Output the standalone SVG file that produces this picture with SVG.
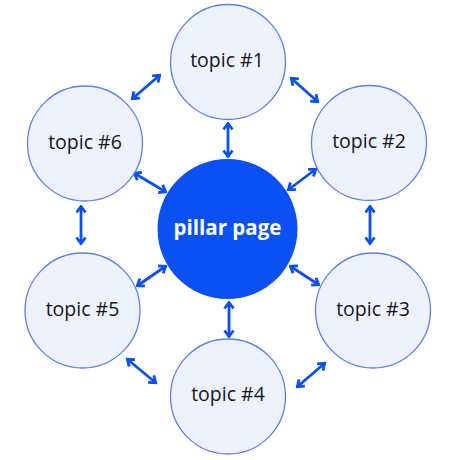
<svg xmlns="http://www.w3.org/2000/svg" width="456" height="460" viewBox="0 0 456 460">
<style>
.topic circle{fill:#eef2fc;stroke:#5b80ea;stroke-width:1.3}
.topic text{font-family:"Open Sans","Liberation Sans",sans-serif;font-size:19.5px;font-weight:500;fill:#16161e;text-anchor:middle}
.pillar text{font-family:"Open Sans","Liberation Sans",sans-serif;font-weight:bold;font-size:20.5px;fill:#ffffff;text-anchor:middle}
.conn line{stroke:#0a4ff0;stroke-width:2.8;marker-start:url(#ah);marker-end:url(#ah)}
</style>
<defs>
<marker id="ah" viewBox="0 0 12 12" refX="10.5" refY="6" markerWidth="12" markerHeight="12" markerUnits="userSpaceOnUse" orient="auto-start-reverse">
<path d="M4,1.5 L10,6 L4,10.5" fill="none" stroke="#0a4ff0" stroke-width="2.8" stroke-linejoin="miter"/>
</marker>
</defs>
<rect width="456" height="460" fill="#ffffff"/>
<g class="conn" id="connectors">
<line x1="228" y1="123" x2="228" y2="157"/>
<line x1="229" y1="302" x2="229" y2="337"/>
<line x1="81" y1="206" x2="81" y2="244"/>
<line x1="370" y1="206" x2="370" y2="244"/>
<line x1="132" y1="99" x2="160" y2="75"/>
<line x1="291" y1="78" x2="318" y2="102"/>
<line x1="316" y1="169" x2="288" y2="190"/>
<line x1="134" y1="173" x2="166" y2="192"/>
<line x1="137" y1="286" x2="166" y2="266"/>
<line x1="290" y1="266" x2="319" y2="285"/>
<line x1="127" y1="359" x2="156" y2="383"/>
<line x1="297" y1="387" x2="325" y2="363"/>
</g>
<g class="pillar" id="pillar">
<circle cx="227.5" cy="229" r="70" fill="#0a50f2"/>
<text x="227.5" y="235">pillar page</text>
</g>
<g class="topic" id="topic1"><circle cx="228" cy="62" r="57.5"/><text x="227" y="67">topic #1</text></g>
<g class="topic" id="topic2"><circle cx="369" cy="143" r="57.5"/><text x="369" y="148">topic #2</text></g>
<g class="topic" id="topic3"><circle cx="373" cy="310.5" r="57.5"/><text x="373" y="316">topic #3</text></g>
<g class="topic" id="topic4"><circle cx="228" cy="396.5" r="57.5"/><text x="228" y="401">topic #4</text></g>
<g class="topic" id="topic5"><circle cx="82.5" cy="310.5" r="57.5"/><text x="82.5" y="316">topic #5</text></g>
<g class="topic" id="topic6"><circle cx="85" cy="143.5" r="57.5"/><text x="85" y="149">topic #6</text></g>
</svg>
